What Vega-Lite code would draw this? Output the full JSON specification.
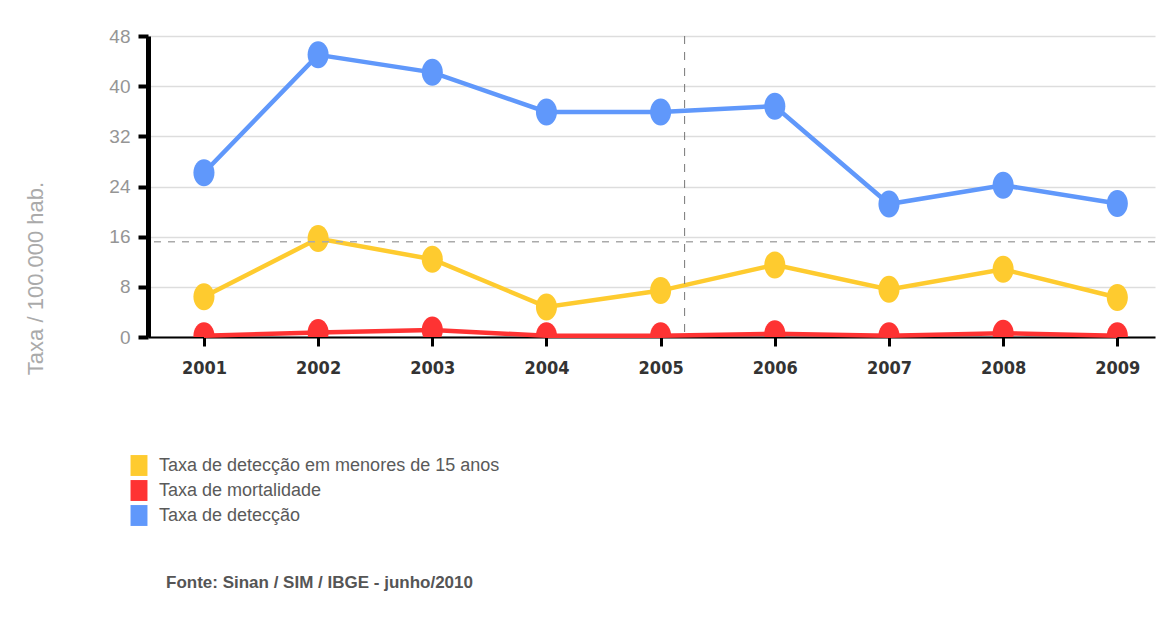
{
  "$schema": "https://vega.github.io/schema/vega-lite/v6.json",
  "width": 1007,
  "height": 301,
  "autosize": {"type": "none"},
  "padding": {"left": 148, "top": 36, "right": 4, "bottom": 287},
  "background": "white",
  "config": {"view": {"stroke": null}},
  "title": {
    "text": "Fonte: Sinan / SIM / IBGE - junho/2010",
    "orient": "bottom",
    "anchor": "start",
    "frame": "group",
    "font": "Liberation Sans",
    "fontSize": 17,
    "fontWeight": "bold",
    "color": "#555555",
    "dx": 18,
    "offset": 48
  },
  "data": {
    "values": [
      {"ano": 2001, "serie": "Taxa de detecção", "valor": 26.2},
      {"ano": 2002, "serie": "Taxa de detecção", "valor": 45.0},
      {"ano": 2003, "serie": "Taxa de detecção", "valor": 42.2},
      {"ano": 2004, "serie": "Taxa de detecção", "valor": 35.9},
      {"ano": 2005, "serie": "Taxa de detecção", "valor": 35.9},
      {"ano": 2006, "serie": "Taxa de detecção", "valor": 36.8},
      {"ano": 2007, "serie": "Taxa de detecção", "valor": 21.2},
      {"ano": 2008, "serie": "Taxa de detecção", "valor": 24.2},
      {"ano": 2009, "serie": "Taxa de detecção", "valor": 21.3},
      {"ano": 2001, "serie": "Taxa de detecção em menores de 15 anos", "valor": 6.4},
      {"ano": 2002, "serie": "Taxa de detecção em menores de 15 anos", "valor": 15.7},
      {"ano": 2003, "serie": "Taxa de detecção em menores de 15 anos", "valor": 12.4},
      {"ano": 2004, "serie": "Taxa de detecção em menores de 15 anos", "valor": 4.8},
      {"ano": 2005, "serie": "Taxa de detecção em menores de 15 anos", "valor": 7.4},
      {"ano": 2006, "serie": "Taxa de detecção em menores de 15 anos", "valor": 11.5},
      {"ano": 2007, "serie": "Taxa de detecção em menores de 15 anos", "valor": 7.6},
      {"ano": 2008, "serie": "Taxa de detecção em menores de 15 anos", "valor": 10.8},
      {"ano": 2009, "serie": "Taxa de detecção em menores de 15 anos", "valor": 6.3},
      {"ano": 2001, "serie": "Taxa de mortalidade", "valor": 0.2},
      {"ano": 2002, "serie": "Taxa de mortalidade", "valor": 0.7},
      {"ano": 2003, "serie": "Taxa de mortalidade", "valor": 1.1},
      {"ano": 2004, "serie": "Taxa de mortalidade", "valor": 0.2},
      {"ano": 2005, "serie": "Taxa de mortalidade", "valor": 0.2},
      {"ano": 2006, "serie": "Taxa de mortalidade", "valor": 0.5},
      {"ano": 2007, "serie": "Taxa de mortalidade", "valor": 0.2},
      {"ano": 2008, "serie": "Taxa de mortalidade", "valor": 0.6},
      {"ano": 2009, "serie": "Taxa de mortalidade", "valor": 0.2}
    ]
  },
  "layer": [
    {
      "mark": {"type": "line", "strokeWidth": 4.5},
      "encoding": {
        "x": {
          "field": "ano", "type": "quantitative",
          "scale": {"domain": [2000.51, 2009.33], "nice": false, "zero": false},
          "axis": {
            "values": [2001, 2002, 2003, 2004, 2005, 2006, 2007, 2008, 2009],
            "format": "d", "title": null, "grid": false,
            "domainColor": "#000000", "domainWidth": 2,
            "tickColor": "#000000", "tickWidth": 3, "tickSize": 9,
            "labelFont": "Liberation Sans Narrow, DejaVu Sans Condensed, sans-serif",
            "labelFontWeight": "bold", "labelFontSize": 18, "labelColor": "#333333",
            "labelPadding": 13
          }
        },
        "y": {
          "field": "valor", "type": "quantitative",
          "scale": {"domain": [0, 48], "nice": false},
          "axis": {
            "values": [0, 4, 8, 12, 16, 20, 24, 28, 32, 36, 40, 44, 48],
            "labelExpr": "datum.value % 8 === 0 ? datum.label : ''",
            "title": "Taxa / 100.000 hab.",
            "titleFont": "Liberation Sans", "titleFontSize": 22, "titleFontWeight": "normal",
            "titleColor": "#aaaaaa", "titleX": -113, "titleY": 242,
            "titleAlign": "center", "titleBaseline": "middle",
            "labelFont": "Liberation Sans", "labelFontSize": 19, "labelColor": "#959595",
            "labelPadding": 8,
            "domainColor": "#000000", "domainWidth": 5,
            "tickColor": "#000000", "tickSize": 10,
            "tickWidth": {"condition": {"test": "datum.value % 8 === 0", "value": 4}, "value": 2},
            "gridColor": "#dddddd", "gridWidth": 1.5,
            "gridOpacity": {"condition": {"test": "datum.value % 8 === 0", "value": 1}, "value": 0}
          }
        },
        "color": {
          "field": "serie", "type": "nominal",
          "scale": {
            "domain": ["Taxa de detecção em menores de 15 anos", "Taxa de mortalidade", "Taxa de detecção"],
            "range": ["#fecb2f", "#fe3333", "#6098fb"]
          },
          "legend": {
            "orient": "none", "legendX": -20, "legendY": 418.5, "title": null,
            "symbolType": "M-0.77,-0.95H0.77V0.95H-0.77Z", "symbolSize": 484,
            "symbolStrokeWidth": 0, "symbolOpacity": 1,
            "labelFont": "Liberation Sans", "labelFontSize": 18, "labelColor": "#5a5a5a",
            "labelOffset": 9, "rowPadding": 3, "labelLimit": 500
          }
        }
      }
    },
    {
      "mark": {
        "type": "point", "filled": true, "opacity": 1, "clip": true,
        "shape": "M-0.78,0A0.78,1,0,1,0,0.78,0A0.78,1,0,1,0,-0.78,0Z",
        "size": 729
      },
      "encoding": {
        "x": {"field": "ano", "type": "quantitative"},
        "y": {"field": "valor", "type": "quantitative"},
        "color": {"field": "serie", "type": "nominal"}
      }
    },
    {
      "data": {"values": [{"valor": 15.2}]},
      "mark": {"type": "rule", "color": "#aaaaaa", "strokeDash": [7, 7], "strokeWidth": 1.5},
      "encoding": {
        "y": {"field": "valor", "type": "quantitative"}
      }
    },
    {
      "data": {"values": [{"ano": 2005.21}]},
      "mark": {"type": "rule", "color": "#777777", "strokeDash": [8, 8], "strokeWidth": 1},
      "encoding": {
        "x": {"field": "ano", "type": "quantitative"}
      }
    }
  ]
}
